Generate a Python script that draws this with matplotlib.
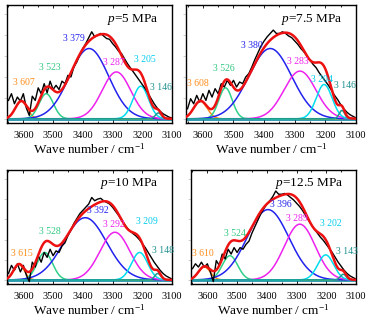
import numpy as np
import matplotlib
matplotlib.use("Agg")
import matplotlib.pyplot as plt
from matplotlib.ticker import MultipleLocator

plt.rcParams['font.family'] = ['Liberation Serif', 'DejaVu Serif']
plt.rcParams['mathtext.fontset'] = 'custom'
plt.rcParams['mathtext.rm'] = 'Liberation Serif'
plt.rcParams['mathtext.it'] = 'Liberation Serif:italic'

# Pressures of the four spectra
pressures = ["5", "7.5", "10", "12.5"]

# Fitted Gaussian sub-peaks: centre (cm^-1), height (a.u.), sigma (cm^-1)
centers = [
    [3607, 3523, 3379, 3287, 3205, 3146],
    [3608, 3526, 3380, 3283, 3204, 3146],
    [3615, 3528, 3392, 3292, 3209, 3148],
    [3610, 3524, 3396, 3289, 3202, 3143],
]
heights = [
    [0.21, 0.30, 0.84, 0.56, 0.39, 0.07],
    [0.21, 0.37, 0.84, 0.57, 0.41, 0.10],
    [0.19, 0.34, 0.77, 0.59, 0.34, 0.08],
    [0.16, 0.30, 0.87, 0.69, 0.31, 0.07],
]
sigmas = [
    [20, 24, 66, 48, 26, 10],
    [22, 22, 70, 52, 26, 9],
    [18, 26, 72, 50, 27, 10],
    [20, 26, 70, 52, 27, 10],
]

# Measured spectra sampled every 10 cm^-1 from 3650 to 3100
wavenumber = np.arange(3650, 3099, -10)
measured = [
    [0.22, 0.30, 0.18, 0.26, 0.21, 0.30, 0.13, 0.04, 0.27, 0.22, 0.37, 0.30, 0.42,
     0.31, 0.45, 0.35, 0.40, 0.35, 0.45, 0.42, 0.52, 0.50, 0.62, 0.68, 0.77, 0.84,
     0.90, 0.97, 1.04, 0.98, 1.00, 1.02, 0.99, 0.96, 0.95, 0.90, 0.86, 0.81, 0.78,
     0.72, 0.66, 0.61, 0.56, 0.51, 0.46, 0.41, 0.36, 0.30, 0.24, 0.18, 0.13, 0.09,
     0.06, 0.04, 0.02, 0.01],
    [0.12, 0.24, 0.18, 0.28, 0.20, 0.30, 0.22, 0.34, 0.26, 0.36, 0.30, 0.42, 0.38,
     0.46, 0.40, 0.46, 0.38, 0.44, 0.42, 0.50, 0.54, 0.62, 0.71, 0.79, 0.87, 0.93,
     0.98, 1.02, 1.06, 1.02, 1.02, 1.04, 1.02, 0.99, 0.97, 0.93, 0.89, 0.84, 0.80,
     0.75, 0.70, 0.65, 0.61, 0.55, 0.50, 0.45, 0.40, 0.34, 0.28, 0.23, 0.17, 0.12,
     0.08, 0.05, 0.03, 0.01],
    [0.08, 0.18, 0.12, 0.20, 0.10, 0.18, 0.06, -0.02, 0.22, 0.16, 0.30, 0.22, 0.34,
     0.28, 0.38, 0.30, 0.36, 0.34, 0.42, 0.46, 0.55, 0.62, 0.70, 0.76, 0.82, 0.86,
     0.90, 0.94, 1.02, 0.98, 1.00, 1.01, 0.98, 0.96, 0.94, 0.90, 0.85, 0.80, 0.74,
     0.69, 0.64, 0.60, 0.57, 0.54, 0.50, 0.45, 0.40, 0.34, 0.28, 0.22, 0.17, 0.12,
     0.08, 0.05, 0.03, 0.01],
    [0.14, 0.20, 0.16, 0.22, 0.16, 0.20, 0.10, -0.02, 0.24, 0.18, 0.32, 0.26, 0.38,
     0.32, 0.40, 0.34, 0.40, 0.38, 0.44, 0.48, 0.58, 0.66, 0.74, 0.82, 0.88, 0.94,
     0.98, 1.03, 1.10, 1.06, 1.06, 1.07, 1.05, 1.02, 0.99, 0.95, 0.91, 0.86, 0.80,
     0.74, 0.68, 0.63, 0.58, 0.53, 0.49, 0.44, 0.39, 0.34, 0.28, 0.22, 0.17, 0.12,
     0.08, 0.05, 0.03, 0.01],
]

# Label anchor points (wavenumber, height) for each sub-peak annotation
label_x = [
    [3598, 3510, 3429, 3294, 3191, 3137],
    [3615, 3532, 3440, 3290, 3210, 3137],
    [3605, 3510, 3350, 3297, 3185, 3129],
    [3615, 3506, 3352, 3299, 3185, 3129],
]
label_y = [
    [0.43, 0.61, 0.96, 0.67, 0.71, 0.37],
    [0.42, 0.60, 0.88, 0.69, 0.47, 0.40],
    [0.33, 0.60, 0.86, 0.68, 0.72, 0.37],
    [0.33, 0.57, 0.93, 0.76, 0.70, 0.35],
]

peak_colors = ["#ff8c1a", "#2fd08a", "#2222ee", "#ee22ee", "#00ddee", "#1f9a90"]
label_colors = ["#ff8c1a", "#2fc880", "#2222ee", "#ee22ee", "#00ccee", "#1f9090"]

# Axes boxes in pixel units (left, top, right, bottom) on a 375 x 322 canvas
boxes = [(7, 5, 172, 123), (186, 5, 356, 123), (7, 170, 172, 284), (191, 170, 356, 284)]
W, H = 375, 322

fig = plt.figure(figsize=(W / 100, H / 100), dpi=100)
grid = np.linspace(3660, 3060, 1200)

for i in range(4):
    l, t, r, b = boxes[i]
    ax = fig.add_axes([l / W, 1 - b / H, (r - l) / W, (b - t) / H])
    ax.axhline(0, color="#1f8fa8", lw=2.0, zorder=1)
    total = np.zeros_like(grid)
    for c, h, s, col in zip(centers[i], heights[i], sigmas[i], peak_colors):
        g = h * np.exp(-(grid - c) ** 2 / (2 * s ** 2))
        total += g
        ax.plot(grid, g, color=col, lw=1.1, zorder=2)
    ax.plot(wavenumber, measured[i], color="black", lw=1.0, zorder=3)
    ax.plot(grid, total, color="#ee1111", lw=1.8, zorder=4)
    for j, c in enumerate(centers[i]):
        ax.text(label_x[i][j], label_y[i][j], f"{c // 1000} {c % 1000:03d}",
                color=label_colors[j], fontsize=7, ha="center", va="center", zorder=5)
    ax.text(0.92, 0.88, f"$p$={pressures[i]} MPa", transform=ax.transAxes,
            ha="right", va="center", fontsize=9.5)
    ax.set_xlim(3655, 3100)
    ax.set_ylim(-0.05, 1.36)
    ax.xaxis.set_major_locator(MultipleLocator(100))
    ax.xaxis.set_minor_locator(MultipleLocator(50))
    ax.yaxis.set_major_locator(MultipleLocator(0.25))
    ax.set_yticklabels([])
    ax.tick_params(axis="x", direction="in", which="both", top=True,
                   labelsize=7.5, pad=6, length=2.5, width=0.6)
    ax.tick_params(axis="x", which="minor", length=1.5)
    ax.tick_params(axis="y", direction="out", length=2, width=0.5,
                   color="#bbbbbb")
    ax.set_xlabel("Wave number / cm$^{-1}$", fontsize=9.5, labelpad=1)
    for sp in ax.spines.values():
        sp.set_linewidth(1.0)

fig.savefig("out.png", dpi=100)
